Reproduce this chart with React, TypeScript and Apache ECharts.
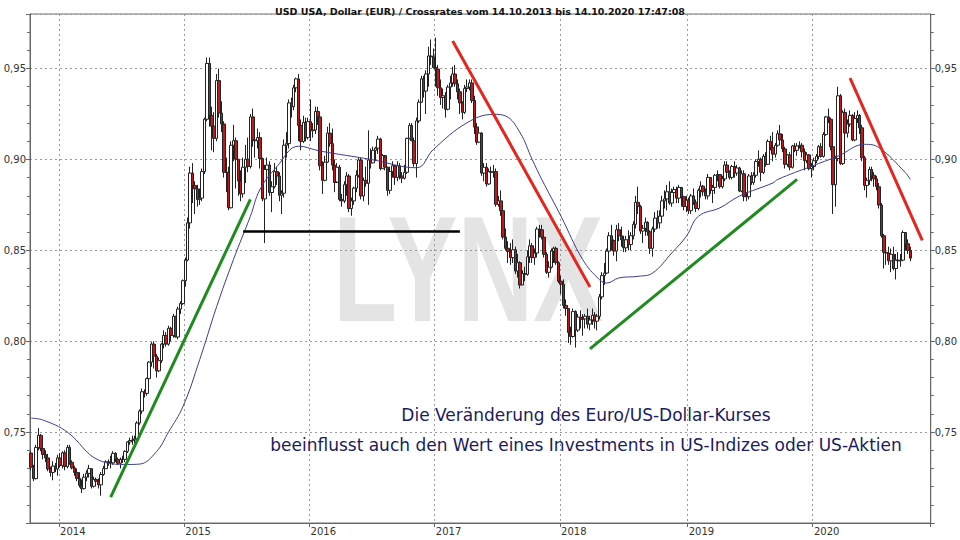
import React, { useEffect, useRef } from "react";
import * as echarts from "echarts";

const TITLE = "USD USA, Dollar (EUR) / Crossrates vom 14.10.2013 bis 14.10.2020 17:47:08";
const FIRST_WEEK = "2013-10-14";
const LAST_AXIS_WEEK = "2020-12-07";
const FIRST_OPEN = 7385; // open of the first weekly candle, 1/10000 EUR

// Weekly candles [close, low, high] in 1/10000 EUR (open = previous close)
const w2013 = [
  [7307, 7290, 7395], [7244, 7230, 7320], [7415, 7240, 7430], [7482, 7400, 7522], [7410, 7395, 7490], [7377, 7350, 7440],
  [7358, 7335, 7400], [7297, 7285, 7380], [7278, 7255, 7310], [7313, 7235, 7340], [7297, 7280, 7330], [7358, 7260, 7375],
];
const w2014 = [
  [7317, 7305, 7385], [7386, 7300, 7395], [7311, 7290, 7400], [7416, 7300, 7430], [7334, 7320, 7430], [7303, 7295, 7345],
  [7278, 7260, 7315], [7245, 7230, 7300], [7207, 7195, 7280], [7189, 7165, 7240], [7252, 7185, 7270], [7273, 7230, 7290],
  [7299, 7250, 7320], [7202, 7190, 7300], [7240, 7195, 7255], [7229, 7215, 7250], [7210, 7190, 7245], [7267, 7150, 7280],
  [7299, 7260, 7315], [7337, 7300, 7345], [7334, 7315, 7350], [7331, 7300, 7370], [7383, 7320, 7395], [7350, 7335, 7390],
  [7329, 7320, 7360], [7350, 7300, 7360], [7350, 7330, 7370], [7394, 7335, 7400], [7446, 7385, 7450], [7454, 7430, 7470],
  [7457, 7430, 7480], [7463, 7440, 7480], [7550, 7460, 7560], [7616, 7540, 7625], [7722, 7600, 7740], [7713, 7690, 7735],
  [7794, 7700, 7800], [7885, 7790, 7890], [7984, 7860, 7995], [7918, 7850, 8000], [7837, 7800, 7930], [7893, 7830, 7910],
  [7984, 7880, 7990], [8032, 7960, 8060], [7984, 7970, 8050], [8071, 7975, 8085], [8032, 8000, 8080], [8137, 8020, 8150],
  [8023, 8020, 8140], [8177, 8010, 8190], [8207, 8150, 8220], [8333, 8200, 8340],
];
const w2015 = [
  [8446, 8300, 8460], [8651, 8440, 8680], [8925, 8620, 8960], [8857, 8760, 8980], [8838, 8700, 8880], [8780, 8740, 8860],
  [8787, 8750, 8840], [8933, 8770, 8950], [9221, 8920, 9230], [9528, 9210, 9560], [9242, 9180, 9560], [9183, 9050, 9290],
  [9116, 9040, 9260], [9434, 9100, 9470], [9255, 9230, 9500], [9195, 9150, 9320], [8929, 8900, 9210], [8929, 8820, 9010],
  [8734, 8720, 8960], [9078, 8730, 9100], [9103, 8990, 9190], [9001, 8840, 9120], [8881, 8800, 9000], [8811, 8770, 8940],
  [8957, 8790, 9010], [9001, 8870, 9080], [8961, 8930, 9120], [9234, 8950, 9250], [9107, 9070, 9280], [9103, 9010, 9160],
  [9120, 9060, 9170], [9005, 8950, 9150], [8783, 8770, 9010], [8945, 8540, 8970], [8969, 8880, 9010], [8818, 8800, 8990],
  [8850, 8710, 8880], [8933, 8840, 8980], [8909, 8860, 8960], [8803, 8770, 8930], [8814, 8700, 8830], [9078, 8790, 9110],
  [9087, 9010, 9150], [9311, 9060, 9330], [9290, 9230, 9340], [9394, 9270, 9410], [9443, 9370, 9450], [9187, 9100, 9470],
  [9099, 9050, 9220], [9204, 9090, 9240], [9120, 9100, 9230], [9208, 9110, 9230],
];
const w2016 = [
  [9158, 9100, 9330], [9162, 9120, 9200], [9264, 9140, 9290], [9234, 9190, 9290], [8965, 8940, 9240], [8885, 8810, 8990],
  [8985, 8880, 9020], [9145, 8980, 9180], [9087, 9070, 9200], [8969, 8940, 9170], [8873, 8820, 9000], [8957, 8880, 8980],
  [8780, 8770, 8970], [8772, 8740, 8810], [8861, 8760, 8880], [8909, 8800, 8930], [8730, 8710, 8920], [8772, 8690, 8790],
  [8842, 8750, 8850], [8913, 8820, 8940], [8997, 8900, 9010], [8799, 8780, 9010], [8885, 8770, 8900], [8869, 8850, 8960],
  [8997, 8750, 9160], [8981, 8950, 9060], [9050, 8980, 9070], [9062, 8990, 9070], [9112, 9030, 9130], [8949, 8940, 9120],
  [9021, 8950, 9030], [8957, 8940, 9010], [8830, 8800, 8960], [8933, 8810, 8960], [8965, 8900, 8990], [8901, 8860, 8970],
  [8965, 8880, 8990], [8909, 8890, 8980], [8897, 8870, 8930], [8929, 8890, 8970], [9116, 8920, 9120], [9187, 9110, 9200],
  [9103, 9100, 9200], [8977, 8960, 9120], [9212, 8900, 9230], [9315, 9200, 9330], [9443, 9310, 9460], [9376, 9340, 9460],
  [9470, 9250, 9490], [9569, 9400, 9620], [9565, 9520, 9660], [9506, 9500, 9610],
];
const w2017 = [
  [9497, 9400, 9670], [9394, 9350, 9520], [9341, 9300, 9440], [9350, 9280, 9390], [9276, 9230, 9370], [9398, 9270, 9410],
  [9421, 9330, 9460], [9470, 9400, 9510], [9416, 9400, 9520], [9372, 9330, 9440], [9311, 9250, 9390], [9259, 9220, 9320],
  [9390, 9250, 9410], [9398, 9370, 9440], [9421, 9380, 9440], [9324, 9310, 9440], [9178, 9140, 9350], [9095, 9080, 9200],
  [9145, 9090, 9180], [8925, 8910, 9150], [8957, 8880, 8980], [8865, 8850, 8980], [8933, 8860, 8950], [8929, 8870, 8960],
  [8933, 8900, 8970], [8753, 8740, 8950], [8772, 8740, 8800], [8718, 8690, 8830], [8573, 8560, 8740], [8511, 8500, 8620],
  [8493, 8430, 8550], [8460, 8420, 8540], [8503, 8430, 8560], [8386, 8370, 8520], [8432, 8350, 8480], [8309, 8290, 8440],
  [8372, 8310, 8390], [8368, 8330, 8410], [8464, 8360, 8500], [8525, 8430, 8560], [8460, 8430, 8540], [8485, 8420, 8510],
  [8617, 8460, 8630], [8613, 8570, 8640], [8573, 8560, 8640], [8478, 8460, 8590], [8379, 8370, 8490], [8407, 8350, 8440],
  [8496, 8400, 8510], [8511, 8430, 8520], [8432, 8420, 8520], [8330, 8320, 8440],
];
const w2018 = [
  [8313, 8260, 8360], [8197, 8180, 8340], [8180, 8140, 8230], [8048, 7990, 8180], [8026, 7980, 8080], [8163, 8020, 8180],
  [8061, 7965, 8170], [8133, 8050, 8150], [8120, 8070, 8170], [8123, 8030, 8150], [8137, 8070, 8150], [8094, 8070, 8180],
  [8117, 8060, 8140], [8143, 8090, 8180], [8110, 8070, 8160], [8137, 8060, 8150], [8244, 8120, 8260], [8361, 8230, 8380],
  [8375, 8310, 8430], [8496, 8370, 8510], [8580, 8480, 8600], [8554, 8500, 8640], [8496, 8470, 8560], [8613, 8440, 8640],
  [8580, 8550, 8650], [8558, 8520, 8630], [8514, 8490, 8580], [8558, 8490, 8580], [8532, 8500, 8610], [8580, 8500, 8600],
  [8643, 8560, 8660], [8764, 8620, 8800], [8741, 8700, 8850], [8606, 8590, 8750], [8621, 8540, 8640], [8654, 8580, 8680],
  [8602, 8580, 8660], [8511, 8480, 8610], [8617, 8465, 8630], [8677, 8600, 8710], [8651, 8620, 8720], [8688, 8620, 8720],
  [8772, 8660, 8800], [8783, 8730, 8830], [8822, 8720, 8860], [8760, 8750, 8880], [8818, 8740, 8840], [8834, 8760, 8850],
  [8787, 8760, 8850], [8846, 8760, 8860], [8795, 8740, 8840], [8741, 8720, 8800], [8776, 8710, 8800],
];
const w2019 = [
  [8718, 8700, 8790], [8799, 8700, 8810], [8764, 8750, 8840], [8730, 8710, 8780], [8830, 8720, 8840], [8853, 8790, 8880],
  [8822, 8800, 8860], [8799, 8780, 8840], [8901, 8780, 8920], [8830, 8810, 8900], [8846, 8760, 8860], [8913, 8810, 8920],
  [8917, 8880, 8940], [8850, 8840, 8920], [8893, 8840, 8910], [8969, 8880, 8990], [8929, 8910, 8990], [8901, 8890, 8940],
  [8961, 8890, 8970], [8925, 8900, 8990], [8953, 8910, 8970], [8826, 8820, 8960], [8921, 8820, 8940], [8795, 8770, 8940],
  [8795, 8770, 8820], [8909, 8780, 8920], [8873, 8860, 8930], [8913, 8860, 8930], [8989, 8900, 9000], [9001, 8960, 9050],
  [8929, 8880, 9010], [9017, 8920, 9030], [8973, 8960, 9040], [9099, 8970, 9110], [9066, 9050, 9130], [9029, 8990, 9150],
  [9078, 9010, 9090], [9141, 9070, 9160], [9107, 9090, 9190], [9058, 9040, 9140], [8973, 8950, 9070], [9025, 8960, 9030],
  [8957, 8940, 9040], [9074, 8950, 9080], [9050, 9040, 9090], [9074, 9020, 9090], [9078, 9060, 9100], [9042, 9010, 9090],
  [8993, 8940, 9060], [9025, 8980, 9040], [8949, 8940, 9030], [8961, 8900, 8980],
];
const w2020 = [
  [8993, 8940, 9010], [9017, 8980, 9030], [9070, 9000, 9080], [9017, 9010, 9090], [9137, 9010, 9150], [9234, 9130, 9240],
  [9221, 9200, 9280], [9070, 9050, 9230], [8861, 8700, 9070], [9005, 8740, 9020], [9350, 8990, 9400], [8977, 8970, 9360],
  [9259, 8970, 9270], [9145, 9130, 9280], [9195, 9120, 9220], [9242, 9180, 9270], [9107, 9100, 9250], [9225, 9100, 9260],
  [9242, 9200, 9270], [9174, 9140, 9250], [9009, 8990, 9190], [8857, 8830, 9020], [8885, 8790, 8900], [8945, 8860, 8960],
  [8913, 8880, 8960], [8893, 8850, 8930], [8850, 8830, 8910], [8749, 8730, 8870], [8580, 8570, 8760], [8489, 8400, 8590],
  [8485, 8420, 8540], [8442, 8420, 8520], [8478, 8380, 8510], [8400, 8390, 8520], [8446, 8340, 8480], [8442, 8400, 8490],
  [8446, 8410, 8480], [8598, 8440, 8610], [8536, 8500, 8600], [8500, 8480, 8560], [8457, 8440, 8520],
];

// Moving average (blue line), read at roughly monthly points
const maPoints: [string, number][] = [
  ["2013-10-14", 0.7577], ["2013-11-18", 0.7566], ["2014-01-27", 0.75], ["2014-05-01", 0.7346], ["2014-07-19", 0.7322],
  ["2014-08-25", 0.7324], ["2014-10-14", 0.7392], ["2014-11-20", 0.75], ["2014-12-29", 0.764], ["2015-02-17", 0.79],
  ["2015-04-05", 0.819], ["2015-05-23", 0.845], ["2015-07-10", 0.8687], ["2015-08-08", 0.8835], ["2015-09-26", 0.896],
  ["2015-12-02", 0.9073], ["2016-01-31", 0.9046], ["2016-06-24", 0.9], ["2016-11-07", 0.8954], ["2016-12-25", 0.9055],
  ["2017-04-01", 0.9202], ["2017-06-17", 0.9248], ["2017-07-25", 0.9239], ["2017-09-02", 0.9147], ["2017-10-09", 0.9],
  ["2017-11-06", 0.889], ["2018-01-04", 0.8687], ["2018-03-04", 0.8449], ["2018-04-21", 0.8338], ["2018-05-11", 0.832],
  ["2018-06-19", 0.8348], ["2018-08-15", 0.8357], ["2018-09-22", 0.8375], ["2018-11-20", 0.8486], ["2018-12-29", 0.8577],
  ["2019-02-07", 0.8687], ["2019-04-05", 0.8734], ["2019-06-02", 0.8798], ["2019-09-06", 0.8871], ["2019-09-26", 0.889],
  ["2020-01-01", 0.8963], ["2020-03-18", 0.9018], ["2020-06-04", 0.9083], ["2020-07-12", 0.9065], ["2020-09-27", 0.8927],
  ["2020-10-12", 0.889],
];

// Trend lines drawn on the chart: [from date, from value, to date, to value, colour, width]
const trendLines: [string, number, string, number, string, number][] = [
  ["2014-06-02", 0.7142, "2015-07-13", 0.878, "#1f8a1f", 3],
  ["2015-06-22", 0.8603, "2017-03-13", 0.8603, "#000000", 2.5],
  ["2017-02-17", 0.9652, "2018-03-26", 0.8298, "#e3261e", 3],
  ["2018-03-26", 0.7958, "2019-11-18", 0.889, "#1f8a1f", 3],
  ["2020-04-20", 0.9447, "2020-11-16", 0.8555, "#e3261e", 3],
];

const NOTES = [
  "Die Veränderung des Euro/US-Dollar-Kurses",
  "beeinflusst auch den Wert eines Investments in US-Indizes oder US-Aktien",
];
const WATERMARK = "LYNX";
const Y_MIN = 0.7;
const Y_MAX = 0.98;
const Y_STEP = 0.05;

const WEEK_MS = 7 * 86400000;

function buildWeeks(): string[] {
  const out: string[] = [];
  const start = Date.parse(FIRST_WEEK + "T00:00:00Z");
  const end = Date.parse(LAST_AXIS_WEEK + "T00:00:00Z");
  for (let t = start; t <= end; t += WEEK_MS) {
    out.push(new Date(t).toISOString().slice(0, 10));
  }
  return out;
}

export default function App() {
  const ref = useRef<HTMLDivElement>(null);

  useEffect(() => {
    if (!ref.current) return;
    const chart = echarts.init(ref.current, undefined, { renderer: "svg" });
    const weeks = buildWeeks();
    const start = Date.parse(FIRST_WEEK + "T00:00:00Z");
    const idxOf = (d: string) =>
      Math.max(0, Math.min(weeks.length - 1, Math.round((Date.parse(d + "T00:00:00Z") - start) / WEEK_MS)));

    const rows = [...w2013, ...w2014, ...w2015, ...w2016, ...w2017, ...w2018, ...w2019, ...w2020];
    const candles = rows.map((r, i) => {
      const open = i === 0 ? FIRST_OPEN : rows[i - 1][0];
      return [open / 10000, r[0] / 10000, r[1] / 10000, r[2] / 10000];
    });

    const ma: (number | null)[] = weeks.map(() => null);
    maPoints.forEach(([d, v]) => {
      ma[idxOf(d)] = v;
    });

    const isYearStart = (index: number) =>
      index > 0 && weeks[index].slice(0, 4) !== weeks[index - 1].slice(0, 4);

    const fmt = (v: number) => v.toFixed(2).replace(".", ",");
    const font = "DejaVu Sans";

    const yAxisBase = {
      type: "value" as const,
      min: Y_MIN,
      max: Y_MAX,
      interval: Y_STEP,
      axisLine: { show: true, lineStyle: { color: "#666", width: 1 } },
      axisTick: { show: true, length: 4, lineStyle: { color: "#666" } },
      minorTick: { show: true, splitNumber: 5, length: 3, lineStyle: { color: "#666" } },
      axisLabel: {
        color: "#333",
        fontSize: 10,
        fontFamily: font,
        margin: 4,
        showMinLabel: false,
        showMaxLabel: false,
        formatter: fmt,
      },
    };

    chart.setOption({
      animation: false,
      backgroundColor: "#ffffff",
      title: {
        text: TITLE,
        left: "center",
        top: 1,
        textStyle: { fontSize: 9.5, fontWeight: "bold", fontFamily: font, color: "#111" },
      },
      grid: {
        left: 30,
        right: 29,
        top: 14,
        bottom: 17,
        show: true,
        borderColor: "#6f6f6f",
        borderWidth: 1,
        backgroundColor: "transparent",
      },
      xAxis: {
        type: "category",
        data: weeks,
        boundaryGap: true,
        axisLine: { show: true, lineStyle: { color: "#666", width: 1 } },
        axisTick: { show: true, interval: isYearStart, length: 4, lineStyle: { color: "#666" } },
        axisLabel: {
          interval: isYearStart,
          formatter: (v: string) => v.slice(0, 4),
          align: "left",
          color: "#333",
          fontSize: 10,
          fontFamily: font,
          margin: 3,
        },
        splitLine: { show: true, interval: isYearStart, lineStyle: { color: "#9a9a9a", type: [2, 3], width: 1 } },
      },
      yAxis: [
        {
          ...yAxisBase,
          position: "left",
          splitLine: { show: true, lineStyle: { color: "#9a9a9a", type: [2, 3], width: 1 } },
        },
        {
          ...yAxisBase,
          position: "right",
          splitLine: { show: false },
        },
      ],
      graphic: [
        {
          type: "text",
          x: 333,
          y: 269,
          scaleX: 0.7,
          z: -1,
          silent: true,
          style: {
            text: WATERMARK,
            font: 'bold 150px "Liberation Sans"',
            fill: "#e4e4e4",
            textAlign: "left",
            textVerticalAlign: "middle",
          },
        },
        ...NOTES.map((t, i) => ({
          type: "text",
          x: 586,
          y: 415 + i * 30,
          z: 10,
          silent: true,
          style: {
            text: t,
            font: '17px "DejaVu Sans"',
            fill: "#1b1b5e",
            textAlign: "center",
            textVerticalAlign: "middle",
          },
        })),
      ],
      series: [
        {
          type: "candlestick",
          xAxisIndex: 0,
          yAxisIndex: 0,
          data: candles,
          barWidth: 3,
          z: 3,
          itemStyle: {
            color: "#ffffff",
            color0: "#bf181d",
            borderColor: "#222",
            borderColor0: "#222",
            borderWidth: 1,
          },
          markLine: {
            silent: true,
            symbol: ["none", "none"],
            label: { show: false },
            z: 6,
            data: trendLines.map(([d1, v1, d2, v2, color, width]) => [
              { coord: [weeks[idxOf(d1)], v1], lineStyle: { color, width, type: "solid" } },
              { coord: [weeks[idxOf(d2)], v2] },
            ]),
          },
        },
        {
          type: "line",
          xAxisIndex: 0,
          yAxisIndex: 0,
          data: ma,
          connectNulls: true,
          showSymbol: false,
          smooth: 0.4,
          z: 4,
          lineStyle: { color: "#3d3d90", width: 1 },
        },
      ],
    });

    return () => chart.dispose();
  }, []);

  return (
    <div
      ref={ref}
      style={{ position: "fixed", left: 0, top: 0, width: 960, height: 540, background: "#fff" }}
    />
  );
}
